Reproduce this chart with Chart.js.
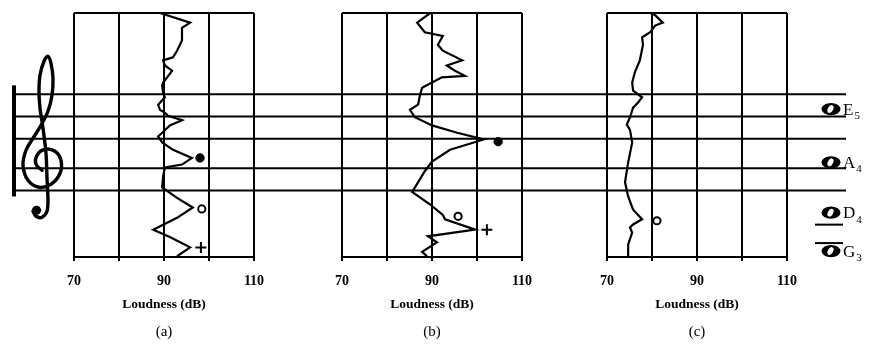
<!DOCTYPE html>
<html><head><meta charset="utf-8">
<script src="https://cdn.jsdelivr.net/npm/chart.js@4.4.1/dist/chart.umd.min.js"></script>
<style>
html,body{margin:0;padding:0;background:#fff;}
#wrap{position:relative;width:872px;height:345px;overflow:hidden;background:#fff;}
canvas{position:absolute;top:0;}
</style></head><body>
<div id="wrap">
<canvas id="bg" width="872" height="345" style="left:0"></canvas>
<canvas id="pa" width="240" height="345"></canvas>
<canvas id="pb" width="240" height="345"></canvas>
<canvas id="pc" width="240" height="345"></canvas>
</div>
<script>
// ---- data (y = pitch in semitones, MIDI numbers; x = loudness in dB) ----
const xTickLabels = [70, 90, 110];
const panelLabels = ['(a)', '(b)', '(c)'];
const staffPitches = [64, 67, 71, 74, 77];          // E4 G4 B4 D5 F5
const noteNames = ['E', 'A', 'D', 'G'];
const noteOctaves = ['5', '4', '4', '3'];
const notePitches = [75.0, 67.8, 61.0, 55.8];

const loudA = [89.1, 95.8, 94.0, 94.0, 92.9, 92.0, 89.8, 90.2, 91.8, 90.7, 89.8, 89.6, 89.8, 90.2, 88.7, 89.1, 90.2, 90.9, 94.0, 91.3, 89.6, 88.7, 89.6, 92.0, 96.2, 94.0, 90.2, 89.8, 89.6, 92.9, 96.4, 92.9, 87.6, 91.3, 95.8, 92.9];
const pitchA = [88.0, 86.7, 86.0, 84.3, 82.9, 82.0, 81.6, 80.9, 80.2, 79.3, 78.6, 78.2, 77.2, 76.6, 75.6, 74.9, 74.5, 74.1, 73.5, 72.8, 71.8, 71.3, 70.5, 69.5, 68.4, 67.5, 67.1, 65.9, 64.4, 63.0, 61.7, 60.3, 58.7, 57.7, 56.3, 55.1];
const markLoudA = [98.0, 98.4, 98.2];
const markPitchA = [68.4, 61.5, 56.3];
const markKindA = ['dot', 'ring', 'plus'];

const loudB = [89.6, 86.7, 88.4, 92.4, 91.3, 92.4, 96.7, 93.3, 95.1, 97.3, 92.2, 90.0, 87.8, 87.3, 86.9, 85.1, 86.2, 90.0, 95.6, 101.5, 94.0, 90.0, 88.4, 85.6, 89.6, 92.4, 92.9, 99.6, 89.1, 91.1, 89.6, 87.8, 88.9];
const pitchB = [88.0, 86.7, 85.4, 84.9, 83.7, 82.9, 81.6, 80.9, 80.2, 79.5, 79.3, 78.6, 77.9, 76.8, 75.6, 74.9, 73.9, 72.8, 71.8, 70.9, 69.5, 67.9, 66.6, 63.8, 62.1, 60.7, 60.1, 58.7, 57.8, 57.0, 56.4, 55.7, 55.1];
const markLoudB = [104.7, 95.8, 102.2];
const markPitchB = [70.6, 60.5, 58.7];
const markKindB = ['dot', 'ring', 'plus'];

const loudC = [79.6, 80.7, 82.4, 80.7, 79.6, 77.8, 78.0, 77.3, 76.2, 75.6, 75.8, 77.8, 76.9, 75.8, 75.1, 74.4, 75.1, 75.6, 74.7, 74.0, 74.7, 75.8, 77.8, 75.8, 75.1, 75.6, 74.7, 74.7];
const pitchC = [88.0, 87.7, 86.7, 86.3, 85.4, 84.7, 83.7, 81.6, 80.0, 78.6, 77.5, 76.6, 75.9, 75.2, 73.9, 72.9, 72.2, 70.5, 67.8, 65.1, 63.2, 61.4, 60.1, 59.4, 59.0, 58.3, 56.7, 55.1];
const markLoudC = [81.1];
const markPitchC = [59.9];
const markKindC = ['ring'];

// ---- layout / style ----
const PITCH_MIN = 55, PITCH_MAX = 88;
const TOP = 13, BOTTOM_PAD = 88;
const panelLefts = [44, 312, 577];
const SERIF = "'Liberation Serif', 'DejaVu Serif', serif";

const markerStyle = {
  dot:  {pointStyle: 'circle', pointRadius: 4.2, backgroundColor: '#000', borderWidth: 1},
  ring: {pointStyle: 'circle', pointRadius: 3.6, backgroundColor: '#fff', borderWidth: 2},
  plus: {pointStyle: 'cross',  pointRadius: 5.5, backgroundColor: '#000', borderWidth: 2}
};

function makePanel(id, left, loud, pitch, mLoud, mPitch, mKind, label) {
  const cv = document.getElementById(id);
  cv.style.left = left + 'px';
  const datasets = [{
    type: 'scatter',
    data: loud.map((x, i) => ({x: x, y: pitch[i]})),
    showLine: true, borderColor: '#000', borderWidth: 2.2,
    pointRadius: 0, tension: 0, fill: false
  }];
  mLoud.forEach((x, i) => {
    const s = markerStyle[mKind[i]];
    datasets.push(Object.assign({
      type: 'scatter', data: [{x: x, y: mPitch[i]}], borderColor: '#000'
    }, s));
  });
  new Chart(cv, {
    type: 'scatter',
    data: {datasets: datasets},
    options: {
      responsive: false, animation: false, devicePixelRatio: 1,
      events: [],
      layout: {padding: {left: 30, right: 30, top: TOP, bottom: 0}},
      plugins: {
        legend: {display: false}, tooltip: {enabled: false},
        title: {display: true, position: 'bottom', text: label, color: '#000',
                font: {family: SERIF, size: 15, weight: 'normal'}, padding: {top: 0, bottom: 4}}
      },
      scales: {
        x: {
          type: 'linear', position: 'bottom', min: 70, max: 110,
          ticks: {stepSize: 10, autoSkip: false, maxRotation: 0, padding: 12, color: '#000',
                  font: {family: SERIF, size: 14, weight: 'bold'},
                  callback: (v) => xTickLabels.includes(v) ? String(v) : ''},
          grid: {color: '#000', lineWidth: 2, tickLength: 4, drawTicks: true},
          border: {display: true, color: '#000', width: 2},
          title: {display: true, text: 'Loudness (dB)', color: '#000',
                  font: {family: SERIF, size: 13.5, weight: 'bold'}, padding: {top: 0, bottom: 10}},
          afterFit: (s) => { s.height = 66; }
        },
        y: {
          type: 'linear', position: 'left', min: PITCH_MIN, max: PITCH_MAX,
          ticks: {display: false, stepSize: PITCH_MAX - PITCH_MIN},
          grid: {color: '#000', lineWidth: 2, drawTicks: false},
          border: {display: false},
          afterFit: (s) => { s.width = 0; }
        }
      }
    }
  });
}

// decorative clef outline (relative to staff G-line), drawn by plugin
const clefPts = [[42,167],[36,161],[37,152],[45,146],[55,148],[61,157],[60,170],[51,181],[39,184],[28,177],[23,162],[26,147],[33,135],[41,122],[48,108],[52,92],[53,75],[51,60],[48,53],[44,58],[40,72],[39,88],[40,105],[43,125],[46,150],[47,175],[48,197],[47,208],[42,214],[36,213],[33,208]];

function spline(ctx, pts) {
  ctx.moveTo(pts[0][0], pts[0][1]);
  for (let i = 0; i < pts.length - 1; i++) {
    const p0 = pts[Math.max(i - 1, 0)], p1 = pts[i], p2 = pts[i + 1], p3 = pts[Math.min(i + 2, pts.length - 1)];
    ctx.bezierCurveTo(p1[0] + (p2[0] - p0[0]) / 6, p1[1] + (p2[1] - p0[1]) / 6,
                      p2[0] - (p3[0] - p1[0]) / 6, p2[1] - (p3[1] - p1[1]) / 6, p2[0], p2[1]);
  }
}

const decor = {
  id: 'decor',
  afterDraw(chart) {
    const ctx = chart.ctx, ys = chart.scales.y, area = chart.chartArea;
    const yTop = ys.getPixelForValue(staffPitches[4]);
    const yBot = ys.getPixelForValue(staffPitches[0]);
    const yG = ys.getPixelForValue(67);
    ctx.save();
    // bracket bar
    ctx.fillStyle = '#000';
    ctx.fillRect(area.left, yTop - 9, 4, (yBot - yTop) + 15);
    // clef
    const pts = clefPts.map(p => [p[0] - 12 + area.left, p[1] - 165 + yG]);
    ctx.beginPath(); spline(ctx, pts);
    ctx.strokeStyle = '#000'; ctx.lineWidth = 3.4; ctx.lineCap = 'round'; ctx.lineJoin = 'round';
    ctx.stroke();
    ctx.beginPath(); ctx.arc(36.5 - 12 + area.left, 207 - 165 + yG, 4.6, 0, Math.PI * 2); ctx.fill();
    // note heads + names
    const hx = area.right - 15;
    notePitches.forEach((p, i) => {
      const y = ys.getPixelForValue(p);
      ctx.fillStyle = '#000';
      ctx.beginPath(); ctx.ellipse(hx, y, 9.5, 6.2, 0, 0, Math.PI * 2); ctx.fill();
      ctx.fillStyle = '#fff';
      ctx.beginPath(); ctx.ellipse(hx - 0.5, y, 2.6, 4.2, 0.5, 0, Math.PI * 2); ctx.fill();
      ctx.fillStyle = '#000';
      if (i === 2) ctx.fillRect(hx - 16, y + 11, 28, 2);
      if (i === 3) ctx.fillRect(hx - 16, y - 9, 28, 2);
      ctx.font = '17px ' + SERIF; ctx.textBaseline = 'middle'; ctx.textAlign = 'left';
      const lx = hx + 12;
      ctx.fillText(noteNames[i], lx, y + 1);
      const w = ctx.measureText(noteNames[i]).width;
      ctx.font = '11px ' + SERIF;
      ctx.fillText(noteOctaves[i], lx + w + 1, y + 7);
    });
    ctx.restore();
  }
};

new Chart(document.getElementById('bg'), {
  type: 'line',
  data: {datasets: staffPitches.map(p => ({
    data: [{x: 0, y: p}, {x: 1, y: p}], borderColor: '#000', borderWidth: 2, pointRadius: 0, tension: 0
  }))},
  options: {
    responsive: false, animation: false, devicePixelRatio: 1, events: [],
    layout: {padding: {left: 12, right: 26, top: TOP, bottom: BOTTOM_PAD}},
    plugins: {legend: {display: false}, tooltip: {enabled: false}},
    scales: {
      x: {type: 'linear', min: 0, max: 1, display: false},
      y: {type: 'linear', min: PITCH_MIN, max: PITCH_MAX, display: false}
    }
  },
  plugins: [decor]
});

makePanel('pa', panelLefts[0], loudA, pitchA, markLoudA, markPitchA, markKindA, panelLabels[0]);
makePanel('pb', panelLefts[1], loudB, pitchB, markLoudB, markPitchB, markKindB, panelLabels[1]);
makePanel('pc', panelLefts[2], loudC, pitchC, markLoudC, markPitchC, markKindC, panelLabels[2]);
</script>
</body></html>
